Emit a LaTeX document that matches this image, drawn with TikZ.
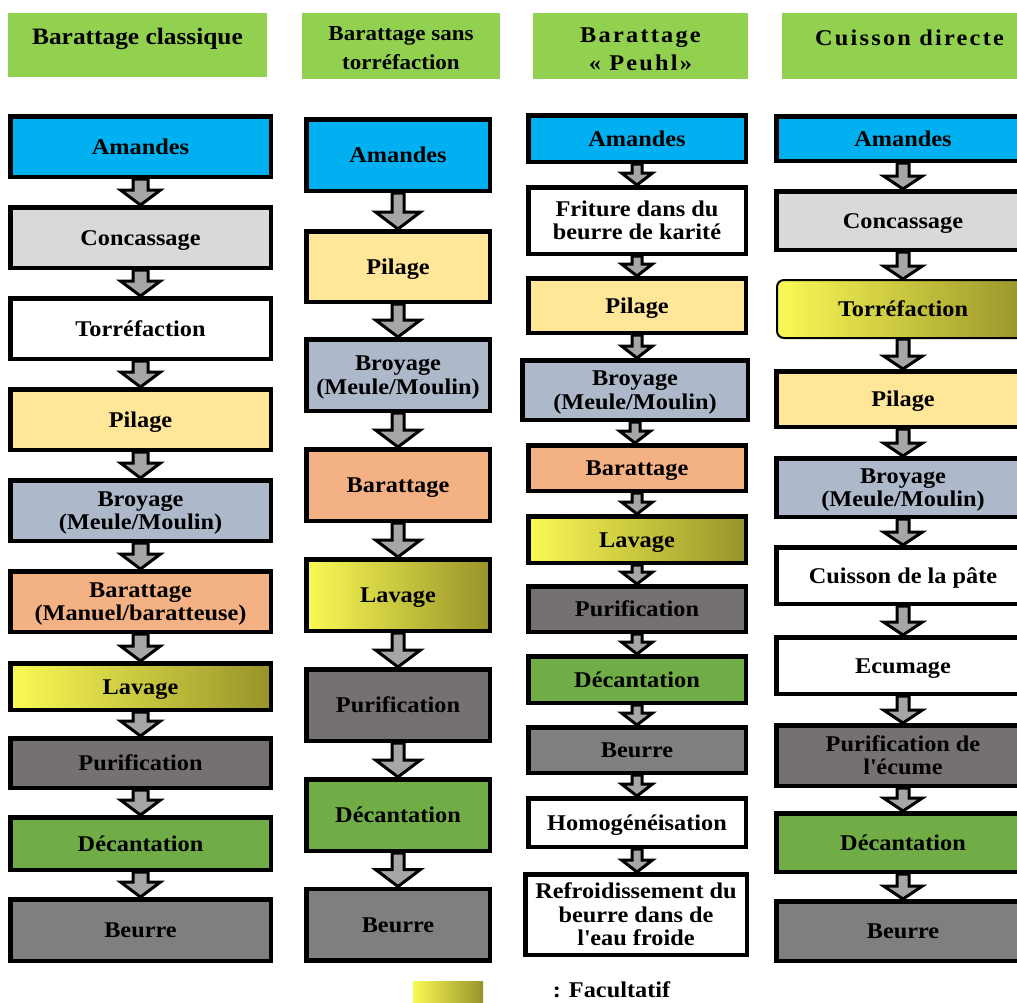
\documentclass[tikz,border=0pt]{standalone}
\usepackage{fontspec}
\setmainfont{Liberation Serif}[FakeStretch=1.08]
\newfontfamily\spacedfont{Liberation Serif}[FakeStretch=1.08,LetterSpace=10]
\usetikzlibrary{calc}
\definecolor{hdr}{HTML}{92D050}
\definecolor{cblue}{HTML}{00B0F0}
\definecolor{clgray}{HTML}{D9D9D9}
\definecolor{cpil}{HTML}{FFE699}
\definecolor{cbro}{HTML}{ADB9CA}
\definecolor{cbar}{HTML}{F4B183}
\definecolor{cpur}{HTML}{767171}
\definecolor{cdec}{HTML}{70AD47}
\definecolor{cbeu}{HTML}{7F7F7F}
\definecolor{carr}{HTML}{A6A6A6}
\definecolor{gradL}{RGB}{250,250,85}
\definecolor{gradM}{RGB}{226,223,66}
\definecolor{gradR}{RGB}{152,147,42}
\newcommand\flow[5]{%
  \draw[flowarrow] let \p1=(#1.south), \p2=(#2.north) in
    (\x1-#3pt,\y1) -- (\x1-#3pt,\y2+#5pt) -- (\x1-#4pt,\y2+#5pt) -- (\x1,\y2)
    -- (\x1+#4pt,\y2+#5pt) -- (\x1+#3pt,\y2+#5pt) -- (\x1+#3pt,\y1) -- cycle;}
\tikzset{
  boxfont/.style={font=\fontsize{22.5}{23.5}\selectfont\bfseries},
  box/.style={draw, line width=4.5pt, inner sep=0pt, align=center, boxfont,
    text height=20pt, text depth=4.9pt},
  two/.style={text height=43.5pt},
  three/.style={text height=67pt},
  colA/.style={box, minimum width=260.5pt},
  colB/.style={box, minimum width=183.5pt},
  colC/.style={box, minimum width=217.5pt},
  colD/.style={box, minimum width=253.5pt},
  hgt/.style={minimum height=#1pt-4.5pt},
  grad/.style={left color=gradL, middle color=gradM, right color=gradR},
  header/.style={fill=hdr, inner sep=0pt, align=center},
  flowarrow/.style={draw, fill=carr, line width=3pt, line join=miter}
}
\begin{document}
\begin{tikzpicture}[x=1pt,y=-1pt]
\clip (0,0) rectangle (1017,1002);
\fill[white] (0,0) rectangle (1017,1002);
% headers
\node[header, minimum width=259pt, minimum height=64pt, text height=16pt, text depth=18pt,
  font=\fontsize{23.5}{28}\selectfont\bfseries] (h1) at (137.5,45) {Barattage classique};
\node[header, minimum width=198pt, minimum height=66pt, text height=52pt, text depth=6pt,
  font=\fontsize{21.3}{29}\selectfont\bfseries] (h2) at (401,46) {Barattage sans\\torréfaction};
\node[header, minimum width=215pt, minimum height=66pt, text height=53pt, text depth=5pt,
  font=\fontsize{22.5}{28}\selectfont\spacedfont\bfseries] (h3) at (640.5,46) {Barattage\\« Peuhl»};
\node[header, minimum width=255pt, minimum height=66pt, text height=16pt, text depth=18pt,
  font=\fontsize{22.5}{28}\selectfont\spacedfont\bfseries] (h4) at (909.5,46) {Cuisson directe};
% column 1
\node[colA, hgt=65, fill=cblue] (a1) at (140.5,146.5) {Amandes};
\node[colA, hgt=65, fill=clgray] (b1) at (140.5,237.5) {Concassage};
\node[colA, hgt=65, fill=white] (c1) at (140.5,328.5) {Torréfaction};
\node[colA, hgt=65, fill=cpil] (d1) at (140.5,419.5) {Pilage};
\node[colA, hgt=65, fill=cbro, two] (e1) at (140.5,510.5) {Broyage\\(Meule/Moulin)};
\node[colA, hgt=65, fill=cbar, two] (f1) at (140.5,601.5) {Barattage\\(Manuel/baratteuse)};
\node[colA, hgt=51, grad] (g1) at (140.5,686.5) {Lavage};
\node[colA, hgt=54, fill=cpur] (k1) at (140.5,763) {Purification};
\node[colA, hgt=57, fill=cdec] (i1) at (140.5,843.5) {Décantation};
\node[colA, hgt=66, fill=cbeu] (j1) at (140.5,930) {Beurre};
% column 2
\node[colB, hgt=76, fill=cblue] (a2) at (398,155) {Amandes};
\node[colB, hgt=75, fill=cpil] (b2) at (398,266.5) {Pilage};
\node[colB, hgt=76, fill=cbro, two] (c2) at (398,375) {Broyage\\(Meule/Moulin)};
\node[colB, hgt=76, fill=cbar] (d2) at (398,485) {Barattage};
\node[colB, hgt=76, grad] (e2) at (398,595) {Lavage};
\node[colB, hgt=76, fill=cpur] (f2) at (398,705) {Purification};
\node[colB, hgt=76, fill=cdec] (g2) at (398,815) {Décantation};
\node[colB, hgt=76, fill=cbeu] (k2) at (398,924.5) {Beurre};
% column 3
\node[colC, hgt=51, fill=cblue] (a3) at (637,138.5) {Amandes};
\node[colC, hgt=71, fill=white, two] (b3) at (637,220.5) {Friture dans du\\beurre de karité};
\node[colC, hgt=59, fill=cpil] (c3) at (637,305.5) {Pilage};
\node[colC, hgt=64, fill=cbro, two, minimum width=225.5pt] (d3) at (635,390) {Broyage\\(Meule/Moulin)};
\node[colC, hgt=50, fill=cbar] (e3) at (637,468) {Barattage};
\node[colC, hgt=51, grad] (f3) at (637,539.5) {Lavage};
\node[colC, hgt=50, fill=cpur] (g3) at (637,609) {Purification};
\node[colC, hgt=51, fill=cdec] (k3) at (637,679.5) {Décantation};
\node[colC, hgt=50, fill=cbeu] (i3) at (637,750) {Beurre};
\node[colC, hgt=53, fill=white] (j3) at (637,822.5) {Homogénéisation};
\node[colC, hgt=85, fill=white, three, minimum width=221.5pt] (m3) at (636,914.5) {Refroidissement du\\beurre dans de\\l\textquotesingle eau froide};
% column 4
\node[colD, hgt=49, fill=cblue] (a4) at (903,138.5) {Amandes};
\node[colD, hgt=63, fill=clgray] (b4) at (903,220.5) {Concassage};
\node[draw, line width=2pt, rounded corners=7pt, inner sep=0pt, align=center, boxfont,
  text height=20pt, text depth=4.9pt,
  minimum width=252pt, minimum height=58pt, grad] (c4) at (903,309) {Torréfaction};
\node[colD, hgt=60, fill=cpil] (d4) at (903,399) {Pilage};
\node[colD, hgt=63, fill=cbro, two] (e4) at (903,487.5) {Broyage\\(Meule/Moulin)};
\node[colD, hgt=61, fill=white] (f4) at (903,575.5) {Cuisson de la pâte};
\node[colD, hgt=61, fill=white] (g4) at (903,665.5) {Ecumage};
\node[colD, hgt=65, fill=cpur, two] (k4) at (903,755.5) {Purification de\\l\textquotesingle écume};
\node[colD, hgt=63, fill=cdec] (i4) at (903,842.5) {Décantation};
\node[colD, hgt=64, fill=cbeu] (j4) at (903,931) {Beurre};
% arrows
\foreach \u/\v in {a1/b1,b1/c1,c1/d1,d1/e1,e1/f1,f1/g1,g1/k1,k1/i1,i1/j1}{\flow{\u}{\v}{7.5}{20}{15}}
\foreach \u/\v in {a2/b2,b2/c2,c2/d2,d2/e2,e2/f2,f2/g2,g2/k2}{\flow{\u}{\v}{6}{22.5}{17}}
\foreach \u/\v in {a3/b3,b3/c3,c3/d3,d3/e3,e3/f3,f3/g3,g3/k3,k3/i3,i3/j3,j3/m3}{\flow{\u}{\v}{5}{15.5}{12}}
\foreach \u/\v in {a4/b4,b4/c4,c4/d4,d4/e4,e4/f4,f4/g4,g4/k4,k4/i4,i4/j4}{\flow{\u}{\v}{6}{19.5}{13}}
% legend
\node[grad, minimum width=70pt, minimum height=21pt, inner sep=0pt] (lg) at (448,991.5) {};
\node[boxfont, inner sep=0pt, text height=20pt, text depth=4.9pt] (lt) at (611.5,990) {: Facultatif};
\end{tikzpicture}
\end{document}
